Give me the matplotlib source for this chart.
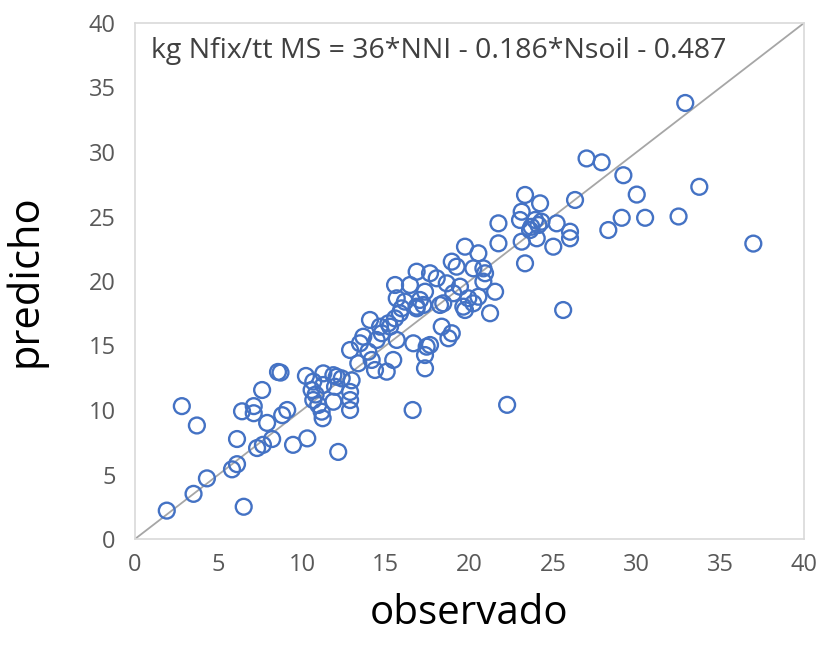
import matplotlib
matplotlib.use("Agg")
import matplotlib.pyplot as plt

plt.rcParams['font.family'] = ['Open Sans', 'DejaVu Sans']

# observed (x) and predicted (y) values
observado = [
    1.9, 3.5, 4.3, 6.5, 2.8, 3.7, 5.8, 6.1, 6.1, 6.4, 7.1, 7.1, 7.6, 8.55, 8.7,
    7.9, 7.3, 7.65, 8.2, 9.45, 10.3, 8.8, 9.1, 12.15,
    10.22, 10.66, 10.56, 11.26, 11.86, 12.36, 11.26, 11.96, 12.95, 12.86, 12.86,
    11.86, 10.66, 10.96, 11.16, 11.22, 12.86, 10.8, 12.06,
    12.86, 13.35, 14.15, 13.95, 14.35, 15.05, 15.44, 13.65, 13.45, 14.05, 14.75,
    14.65, 15.15, 15.65, 15.55, 15.65, 16.14, 15.84, 14.45,
    16.84, 17.24, 18.43, 19.73, 20.23, 21.23, 18.34, 18.94, 18.74, 16.64, 17.44,
    17.34, 17.34, 16.6, 22.25,
    21.73, 21.73, 19.73, 20.53, 18.94, 19.23, 20.23, 20.83, 20.83, 21.53, 16.84,
    17.64, 18.04, 15.55, 16.44, 18.64, 19.43, 19.93, 20.53, 19.03, 17.34, 17.04,
    15.94, 16.84, 15.25, 17.64, 18.24, 19.63, 20.93,
    23.32, 24.22, 26.31, 23.12, 23.02, 23.92, 24.12, 23.62, 25.21, 26.01, 26.01,
    25.01, 24.02, 23.12, 23.32, 28.3, 32.9, 27.0, 27.9, 29.2, 30.0, 33.74, 29.1,
    30.5, 32.5, 36.97, 25.6, 23.7, 24.3,
]
predicho = [
    2.2, 3.5, 4.7, 2.5, 10.3, 8.8, 5.4, 5.8, 7.75, 9.9, 10.3, 9.75, 11.55, 12.95, 12.9,
    9.0, 7.05, 7.3, 7.75, 7.3, 7.8, 9.6, 10.0, 6.75,
    12.64, 12.2, 11.55, 12.84, 12.7, 12.45, 11.94, 11.8, 12.3, 11.4, 10.77,
    10.64, 10.77, 10.39, 9.87, 9.36, 10.0, 11.2, 12.58,
    14.65, 13.62, 13.88, 14.52, 13.1, 12.97, 13.88, 15.68, 15.17, 16.98, 15.95,
    16.46, 16.72, 15.43, 17.1, 18.66, 18.4, 17.5, 15.43,
    17.88, 18.14, 18.27, 17.75, 18.27, 17.5, 16.46, 15.95, 15.56, 15.17, 14.91,
    14.26, 13.23, 10.0, 10.4,
    24.47, 22.92, 22.66, 22.15, 21.5, 21.11, 20.98, 20.98, 19.95, 19.17, 20.72,
    20.6, 20.21, 19.69, 19.69, 19.82, 19.56, 18.66, 18.78, 19.05, 19.17, 18.53,
    17.88, 18.01, 16.46, 15.04, 18.14, 18.01, 20.6,
    26.67, 26.02, 26.28, 25.37, 24.73, 24.73, 24.34, 23.95, 24.47, 23.82, 23.31,
    22.66, 23.31, 23.05, 21.37, 23.95, 33.8, 29.5, 29.2, 28.2, 26.7, 27.3, 24.9,
    24.9, 25.0, 22.9, 17.75, 24.2, 24.6,
]
ticks = [0, 5, 10, 15, 20, 25, 30, 35, 40]
equation = "kg Nfix/tt MS = 36*NNI - 0.186*Nsoil - 0.487"

fig = plt.figure(figsize=(8.23, 6.52), dpi=100)
ax = fig.add_axes([135/823, 1-539/652, (804-135)/823, (539-23)/652])

ax.plot([0, 40], [0, 40], color="#A6A6A6", lw=1.3, zorder=1)
ax.scatter(observado, predicho, s=130, facecolors="none", edgecolors="#4472C4",
           linewidths=1.7, zorder=2)

ax.set_xlim(0, 40)
ax.set_ylim(0, 40)
ax.set_xticks(ticks)
ax.set_yticks(ticks)
ax.tick_params(length=0, labelsize=17, labelcolor="#595959")
ax.tick_params(axis="y", pad=14)
ax.tick_params(axis="x", pad=10)
for s in ax.spines.values():
    s.set_color("#D9D9D9")
    s.set_linewidth(1.2)

ax.set_xlabel("observado", fontsize=29, color="black", labelpad=12)
ax.set_ylabel("predicho", fontsize=30, color="black", labelpad=30)

ax.text(0.024, 0.945, equation, transform=ax.transAxes, fontsize=20.5,
        color="#404040", ha="left", va="center")

fig.savefig("out.png", dpi=100)
